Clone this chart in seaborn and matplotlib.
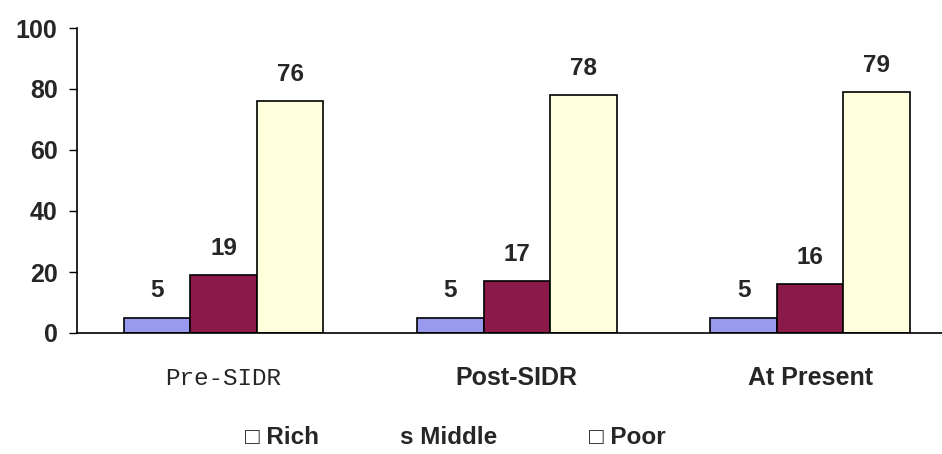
import matplotlib
matplotlib.use("Agg")
import matplotlib.pyplot as plt
import seaborn as sns
import pandas as pd

periods = ["Pre-SIDR", "Post-SIDR", "At Present"]
classes = ["Rich", "Middle", "Poor"]
rich = [5, 5, 5]
middle = [19, 17, 16]
poor = [76, 78, 79]
legend_labels = ["\u25a1 Rich", "s Middle", "\u25a1 Poor"]
y_ticks = [0, 20, 40, 60, 80, 100]

colors = ["#9999ee", "#8b1a4a", "#ffffdd"]

df = pd.DataFrame({
    "period": periods * 3,
    "class": [c for c in classes for _ in periods],
    "value": rich + middle + poor,
})

sns.set_style("white")
plt.rcParams["font.family"] = ["Liberation Sans", "DejaVu Sans"]

fig = plt.figure(figsize=(9.42, 4.54), dpi=100)
ax = fig.add_axes([77 / 942, 121 / 454, 1 - 77 / 942, 305 / 454])

sns.barplot(data=df, x="period", y="value", hue="class", order=periods,
            hue_order=classes, palette=colors, saturation=1, edgecolor="black",
            linewidth=1.2, width=0.68, legend=False, ax=ax)

for cont in ax.containers:
    ax.bar_label(cont, fmt="%d", padding=11, fontsize=17.5, fontweight="bold")

ax.set_ylim(0, 100)
ax.set_xlim(-0.5, 2.45)
ax.set_yticks(y_ticks)
ax.set_yticklabels([str(t) for t in y_ticks], fontsize=18, fontweight="bold")
ax.set_xlabel("")
ax.set_ylabel("")

# category boundaries as small downward ticks
ax.set_xticks([0.5, 1.5], minor=True)
ax.tick_params(axis="x", which="minor", direction="out", length=5, width=1, color="black")
ax.set_xticks([0, 1, 2])
ax.set_xticklabels([])
ax.tick_params(axis="x", which="major", length=0)
ax.tick_params(axis="y", direction="out", length=6, width=1, color="black", left=True, pad=8)

for s in ["top", "right"]:
    ax.spines[s].set_visible(False)
for s in ["left", "bottom"]:
    ax.spines[s].set_color("black")
    ax.spines[s].set_linewidth(1.2)

# category labels under the axis
label_fonts = [
    dict(family=["Liberation Mono", "DejaVu Sans Mono"], fontsize=17.5),
    dict(family=["Liberation Sans", "DejaVu Sans"], fontsize=18, fontweight="bold"),
    dict(family=["Liberation Sans", "DejaVu Sans"], fontsize=18, fontweight="bold"),
]
for i, (p, f) in enumerate(zip(periods, label_fonts)):
    ax.text(i, -14.8, p, ha="center", va="center", transform=ax.transData, **f)

# legend row
legend_x = [282, 449, 627]
for x, t in zip(legend_x, legend_labels):
    fig.text(x / 942, 1 - 437 / 454, t, ha="center", va="center",
             fontsize=17.5, fontweight="bold",
             family=["Liberation Sans", "DejaVu Sans"])

fig.savefig("out.png", dpi=100)
